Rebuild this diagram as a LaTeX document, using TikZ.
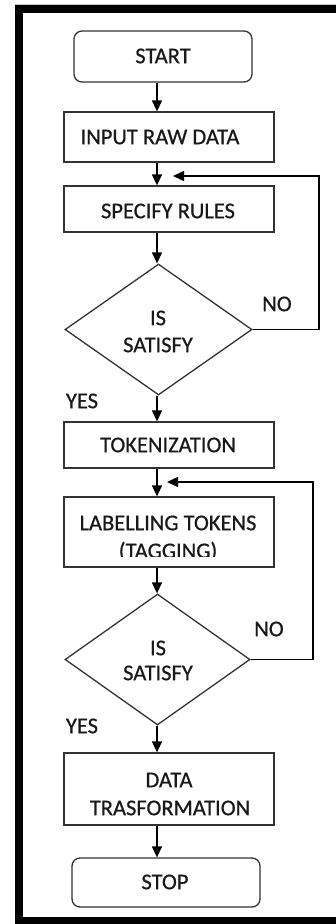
\documentclass[tikz,border=0pt]{standalone}
\usepackage{fontspec}
\setmainfont{Carlito}
\newfontfamily\flowfont[FakeBold=0.6]{Carlito}
\usetikzlibrary{arrows.meta,shapes.geometric}
\begin{document}
\begin{tikzpicture}[x=1pt,y=-1pt,
  txt/.style={font=\flowfont\fontsize{22.5}{27.5}\selectfont, text=black!90, inner sep=0pt, align=center},
  box/.style={draw=black!80, line width=1.3pt, rectangle, inner sep=0pt},
  rbox/.style={box, rounded corners=8pt},
  dia/.style={draw=black!80, line width=1.3pt, diamond, inner sep=0pt},
  arr/.style={draw=black, line width=1.3pt, -{Triangle[length=11pt,width=10pt]}},
]
\useasboundingbox (0,0) rectangle (336,924);
\fill[white] (0,0) rectangle (336,924);
% frame
\draw[gray!45, line width=1pt] (15,4) -- (336,4);
\draw[line width=8pt, line join=miter] (336,9) -- (19,9) -- (19,921) -- (336,921);

% reference coordinates
\coordinate (ax) at (157,0);
\coordinate (r1) at (319,0);
\coordinate (r2) at (313,0);
\coordinate (fb1) at (173,176);
\coordinate (fb2) at (167,482);

% shapes
\node[rbox, minimum width=178pt, minimum height=51pt] (start) at (163,56.5) {};
\node[box, minimum width=210pt, minimum height=50pt] (input) at (169,137) {};
\node[box, minimum width=210pt, minimum height=46pt] (spec) at (169,209) {};
\node[dia, minimum width=187pt, minimum height=131pt] (d1) at (158.5,329.5) {};
\node[box, minimum width=210pt, minimum height=46pt] (tok) at (169,445) {};
\node[box, minimum width=210pt, minimum height=70pt] (lab) at (169,532) {};
\node[dia, minimum width=185pt, minimum height=131pt] (d2) at (157.5,659.5) {};
\node[box, minimum width=210pt, minimum height=72pt] (data) at (169,789) {};
\node[rbox, minimum width=188pt, minimum height=49pt] (stop) at (166,882.5) {};

% texts
\node[txt, anchor=base] (tstart) at (163,63.2) {START};
\node[txt, anchor=base] (tinput) at (160,144.2) {INPUT RAW DATA};
\node[txt, anchor=base] (tspec) at (168,218.2) {SPECIFY RULES};
\node[txt, anchor=base] (td1a) at (158,325.2) {IS};
\node[txt, anchor=base] (td1b) at (158,352.2) {SATISFY};
\node[txt, anchor=base] (no1) at (277,311.2) {NO};
\node[txt, anchor=base] (yes1) at (82,408.2) {YES};
\node[txt, anchor=base] (ttok) at (168,452.2) {TOKENIZATION};
\node[txt, anchor=base] (tlab) at (168,530.2) {LABELLING TOKENS};
\begin{scope}
  \clip (64,536) rectangle (274,556);
  \node[txt, anchor=base] (ttag) at (168,558.2) {(TAGGING)};
\end{scope}
\node[txt, anchor=base] (no2) at (269,636.2) {NO};
\node[txt, anchor=base] (td2a) at (158,655.2) {IS};
\node[txt, anchor=base] (td2b) at (158,680.2) {SATISFY};
\node[txt, anchor=base] (yes2) at (82,733.2) {YES};
\node[txt, anchor=base] (tdata1) at (169,787.2) {DATA};
\node[txt, anchor=base] (tdata2) at (170,815.2) {TRASFORMATION};
\node[txt, anchor=base] (tstop) at (165,889.2) {STOP};

% main connectors
\draw[arr] (start.south -| ax) -- (input.north -| ax);
\draw[arr] (input.south -| ax) -- (spec.north -| ax);
\draw[arr] (spec.south -| ax) -- (d1.north -| ax);
\draw[arr] (d1.south -| ax) -- (tok.north -| ax);
\draw[arr] (tok.south -| ax) -- (lab.north -| ax);
\draw[arr] (lab.south -| ax) -- (d2.north -| ax);
\draw[arr] (d2.south -| ax) -- (data.north -| ax);
\draw[arr] (data.south -| ax) -- (stop.north -| ax);

% feedback loops
\draw[arr] (d1.east) -- (d1.east -| r1) |- (fb1);
\draw[arr] (d2.east) -- (d2.east -| r2) |- (fb2);
\end{tikzpicture}
\end{document}
